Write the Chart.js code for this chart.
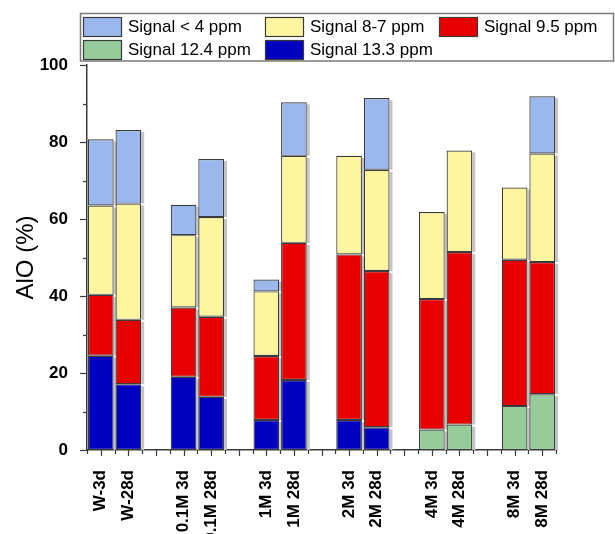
<!DOCTYPE html>
<html>
<head>
<meta charset="utf-8">
<script src="https://cdn.jsdelivr.net/npm/chart.js@4/dist/chart.umd.min.js"></script>
<style>
  html, body { margin: 0; padding: 0; background: #fff; }
  #wrap { width: 615px; height: 534px; }
</style>
</head>
<body>
<div id="wrap"><canvas id="c" width="615" height="534"></canvas></div>
<script>
// Sample labels (empty strings are spacer slots between groups)
const categories = ['W-3d', 'W-28d', '', '0.1M 3d', '0.1M 28d', '', '1M 3d', '1M 28d', '',
  '2M 3d', '2M 28d', '', '4M 3d', '4M 28d', '', '8M 3d', '8M 28d'];

// Contribution of each signal to AlO (%), stacked bottom to top
const signal133 = [24.5, 17.1, null, 19.0, 13.8, null, 7.8, 18.2, null, 7.8, 5.9, null, null, null, null, null, null];
const signal124 = [null, null, null, null, null, null, null, null, null, null, null, null, 5.3, 6.6, null, 11.4, 14.5];
const signal95  = [15.8, 16.7, null, 18.0, 20.8, null, 16.6, 35.6, null, 43.0, 40.6, null, 33.9, 44.8, null, 38.0, 34.3];
const signal87  = [23.2, 30.2, null, 18.8, 25.9, null, 16.8, 22.6, null, 25.6, 26.3, null, 22.6, 26.4, null, 18.8, 28.2];
const signalLow = [17.2, 19.1, null, 7.9, 15.1, null, 3.1, 13.9, null, null, 18.6, null, null, null, null, null, 14.9];

const yTicks = [0, 20, 40, 60, 80, 100];

const BORDER = '#3a3a3a';
const FONT = '"Liberation Sans", Arial, sans-serif';

function ds(label, data, color) {
  return {
    label, data,
    backgroundColor: color,
    borderColor: BORDER,
    borderWidth: 1.2,
    borderSkipped: false,
    stack: 's',
    barPercentage: 0.93,
    categoryPercentage: 1.0
  };
}

// Grey drop shadow to the right of every bar
const barShadow = {
  id: 'barShadow',
  beforeDatasetsDraw(chart) {
    const ctx = chart.ctx;
    ctx.save();
    ctx.fillStyle = '#c4c4c4';
    chart.data.datasets.forEach((d, i) => {
      const meta = chart.getDatasetMeta(i);
      meta.data.forEach((bar, j) => {
        if (d.data[j] == null) return;
        const p = bar.getProps(['x', 'y', 'base', 'width'], true);
        const top = Math.min(p.y, p.base), bot = Math.max(p.y, p.base);
        ctx.fillRect(p.x + p.width / 2, top + 2, 3, bot - top - 2);
      });
    });
    ctx.restore();
  }
};

// Tick marks, axis title and boxed legend
const decorations = {
  id: 'decorations',
  afterDraw(chart) {
    const ctx = chart.ctx;
    const xs = chart.scales.x, ys = chart.scales.y;
    const area = chart.chartArea;
    ctx.save();
    ctx.strokeStyle = BORDER;
    ctx.lineWidth = 1.2;
    // y ticks (major every 20, minor every 10)
    for (let v = 0; v <= 100; v += 10) {
      const y = Math.round(ys.getPixelForValue(v)) + 0.5;
      const len = v % 20 === 0 ? 7 : 4;
      ctx.beginPath();
      ctx.moveTo(area.left - len, y);
      ctx.lineTo(area.left, y);
      ctx.stroke();
    }
    // x ticks: long at category centres, short at boundaries
    const n = categories.length;
    const half = (xs.getPixelForValue(1) - xs.getPixelForValue(0)) / 2;
    for (let i = 0; i < n; i++) {
      const xc = Math.round(xs.getPixelForValue(i)) + 0.5;
      ctx.beginPath();
      ctx.moveTo(xc, area.bottom);
      ctx.lineTo(xc, area.bottom + 6);
      ctx.stroke();
      const xb = Math.round(xs.getPixelForValue(i) - half) + 0.5;
      ctx.beginPath();
      ctx.moveTo(xb, area.bottom);
      ctx.lineTo(xb, area.bottom + 4);
      ctx.stroke();
    }
    const xe = Math.round(xs.getPixelForValue(n - 1) + half) + 0.5;
    ctx.beginPath();
    ctx.moveTo(xe, area.bottom);
    ctx.lineTo(xe, area.bottom + 4);
    ctx.stroke();

    // y-axis title
    ctx.save();
    ctx.translate(26, (area.top + area.bottom) / 2);
    ctx.rotate(-Math.PI / 2);
    ctx.fillStyle = '#000';
    ctx.font = '24px ' + FONT;
    ctx.textAlign = 'center';
    ctx.textBaseline = 'middle';
    ctx.fillText('AlO (%)', 0, 0);
    ctx.restore();

    // legend box
    ctx.fillStyle = '#fff';
    ctx.fillRect(80, 13, 535, 48);
    ctx.strokeStyle = '#7a7a7a';
    ctx.lineWidth = 1.5;
    ctx.strokeRect(80.5, 13.5, 533, 47.5);
    const dsets = chart.data.datasets;
    const items = [
      [4, 83, 17], [3, 265, 17], [2, 439, 17],
      [1, 83, 40], [0, 265, 40]
    ];
    ctx.font = '17px ' + FONT;
    ctx.textBaseline = 'middle';
    ctx.textAlign = 'left';
    items.forEach(([k, x, y]) => {
      ctx.fillStyle = dsets[k].backgroundColor;
      ctx.fillRect(x, y, 39, 20);
      ctx.strokeStyle = BORDER;
      ctx.lineWidth = 1.2;
      ctx.strokeRect(x + 0.5, y + 0.5, 38, 19);
      ctx.fillStyle = '#000';
      ctx.fillText(dsets[k].label, x + 45, y + 10);
    });
    ctx.restore();
  }
};

new Chart(document.getElementById('c'), {
  type: 'bar',
  data: {
    labels: categories,
    datasets: [
      ds('Signal 13.3 ppm', signal133, '#0000c0'),
      ds('Signal 12.4 ppm', signal124, '#95cc9a'),
      ds('Signal 9.5 ppm', signal95, '#e80000'),
      ds('Signal 8-7 ppm', signal87, '#fff59e'),
      ds('Signal < 4 ppm', signalLow, '#9ab7ee')
    ]
  },
  options: {
    responsive: false,
    animation: false,
    layout: { padding: { top: 65, right: 59, left: 0, bottom: 0 } },
    plugins: { legend: { display: false }, tooltip: { enabled: false } },
    scales: {
      x: {
        stacked: true,
        grid: { display: false },
        border: { display: true, color: BORDER, width: 1.5 },
        ticks: {
          autoSkip: false,
          maxRotation: 90,
          minRotation: 90,
          padding: 12,
          color: '#000',
          font: { family: FONT, size: 17, weight: 'bold' }
        },
        afterFit(s) { s.height = 84; }
      },
      y: {
        stacked: true,
        min: 0,
        max: 100,
        grid: { display: false },
        border: { display: true, color: BORDER, width: 1.5 },
        afterBuildTicks(s) { s.ticks = yTicks.map(v => ({ value: v })); },
        ticks: {
          padding: 11,
          color: '#000',
          font: { family: FONT, size: 17, weight: 'bold' }
        },
        afterFit(s) { s.width = 87; }
      }
    }
  },
  plugins: [barShadow, decorations]
});
</script>
</body>
</html>
